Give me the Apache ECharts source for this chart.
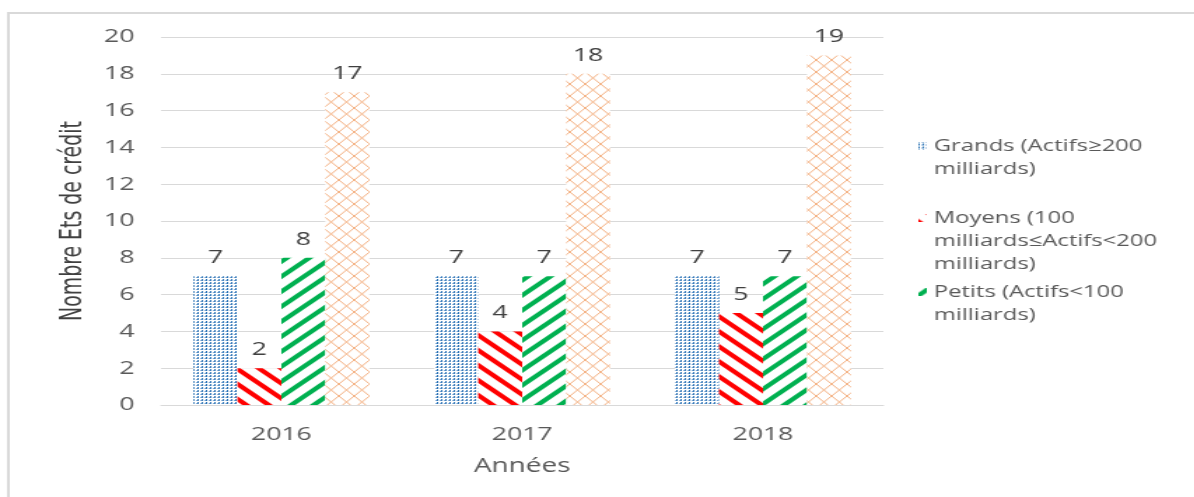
<!DOCTYPE html>
<html>
<head>
<meta charset="utf-8">
<script src="https://cdn.jsdelivr.net/npm/echarts@6/dist/echarts.min.js"></script>
<style>
  html, body { margin: 0; padding: 0; background: #fff; overflow: hidden; }
  /* la figure d'origine est étirée horizontalement */
  #main { width: 853px; height: 497px; transform: scaleX(1.4); transform-origin: 0 0; }
</style>
</head>
<body>
<div id="main"></div>
<script>
// données
const years = ["2016", "2017", "2018"];
const grands = [7, 7, 7];
const moyens = [2, 4, 5];
const petits = [8, 7, 7];
const total = [17, 18, 19];
const yTicks = [0, 2, 4, 6, 8, 10, 12, 14, 16, 18, 20];

const seriesNames = [
  "Grands (Actifs≥200\nmilliards)",
  "Moyens (100\nmilliards≤Actifs<200\nmilliards)",
  "Petits (Actifs<100\nmilliards)",
  "Total",
];

const FONT = "'Open Sans', sans-serif";
const GREY = "#595959";

// motifs de remplissage
function makePattern(w, h, draw) {
  const c = document.createElement("canvas");
  c.width = w;
  c.height = h;
  const ctx = c.getContext("2d");
  ctx.fillStyle = "#fff";
  ctx.fillRect(0, 0, w, h);
  draw(ctx, w, h);
  return { image: c, repeat: "repeat" };
}

const bluePattern = makePattern(3, 3, (ctx) => {
  ctx.fillStyle = "#2e75b6";
  ctx.fillRect(0, 0, 1, 2);
  ctx.fillStyle = "#7fa9d6";
  ctx.fillRect(2, 1, 1, 1);
});

function stripes(color, rising) {
  return makePattern(16, 15, (ctx, w, h) => {
    ctx.strokeStyle = color;
    ctx.lineWidth = 4;
    for (let k = -1; k <= 1; k++) {
      ctx.beginPath();
      if (rising) {
        ctx.moveTo(-w, h + k * h + h);
        ctx.lineTo(2 * w, k * h - h);
      } else {
        ctx.moveTo(-w, k * h - h);
        ctx.lineTo(2 * w, h + k * h + h);
      }
      ctx.stroke();
    }
  });
}
const redPattern = stripes("#ff0000", false);
const greenPattern = stripes("#00b050", true);

const orangePattern = makePattern(11, 12, (ctx, w, h) => {
  ctx.strokeStyle = "#f4b183";
  ctx.lineWidth = 1;
  ctx.beginPath();
  ctx.moveTo(0, 0);
  ctx.lineTo(w, h);
  ctx.moveTo(0, h);
  ctx.lineTo(w, 0);
  ctx.stroke();
});

const patterns = [bluePattern, redPattern, greenPattern, orangePattern];
const values = [grands, moyens, petits, total];

const chart = echarts.init(document.getElementById("main"));

// une légende par série : icône alignée sur la première ligne du texte
const LH = 23;
const legendRows = [
  { idx: 0, lines: 2, y: 146 },
  { idx: 1, lines: 3, y: 218 },
  { idx: 2, lines: 2, y: 292 },
];
const legends = legendRows.map((r) => {
  const h = r.lines * LH;
  return {
    left: 656,
    top: r.y - LH / 2,
    padding: 0,
    itemWidth: 6,
    itemHeight: h,
    icon: "path://M0,7.5L6,7.5L6,15.5L0,15.5Z M0,0L0.01,0L0,0.01Z M0," + h + "L0.01," + h + "L0," + (h - 0.01) + "Z",
    selectedMode: false,
    data: [seriesNames[r.idx]],
    textStyle: {
      color: GREY,
      fontFamily: FONT,
      fontSize: 17,
      lineHeight: LH,
    },
  };
});

const option = {
  animation: false,
  backgroundColor: "#fff",
  graphic: [
    {
      type: "rect",
      shape: { x: 6, y: 13, width: 1000, height: 600 },
      style: { fill: null, stroke: "#d9d9d9", lineWidth: 2 },
      silent: true,
    },
  ],
  grid: { left: 115, right: 222, top: 37, bottom: 92 },
  legend: legends,
  xAxis: {
    type: "category",
    data: years,
    name: "Années",
    nameLocation: "middle",
    nameGap: 51,
    nameTextStyle: { color: GREY, fontFamily: FONT, fontSize: 20 },
    axisLine: { lineStyle: { color: "#d9d9d9" } },
    axisTick: { show: false },
    axisLabel: { color: GREY, fontFamily: FONT, fontSize: 19, margin: 20 },
  },
  yAxis: {
    type: "value",
    min: yTicks[0],
    max: yTicks[yTicks.length - 1],
    interval: 2,
    name: "Nombre Ets de crédit",
    nameLocation: "middle",
    nameGap: 51,
    nameTextStyle: {
      color: "#404040",
      fontFamily: "'Liberation Sans Narrow', 'DejaVu Sans Condensed', sans-serif",
      fontSize: 21,
    },
    axisLine: { show: false },
    axisTick: { show: false },
    axisLabel: { color: GREY, fontFamily: FONT, fontSize: 19, margin: 19 },
    splitLine: { lineStyle: { color: "#d9d9d9" } },
  },
  series: values.map((v, i) => ({
    name: seriesNames[i],
    type: "bar",
    data: v,
    barGap: "0%",
    barCategoryGap: "27%",
    itemStyle: { color: patterns[i] },
    label: {
      show: true,
      position: "top",
      distance: 9,
      color: "#404040",
      fontFamily: FONT,
      fontSize: 19,
    },
  })),
};

chart.setOption(option);
window.addEventListener("resize", () => {
  chart.resize();
});
</script>
</body>
</html>
